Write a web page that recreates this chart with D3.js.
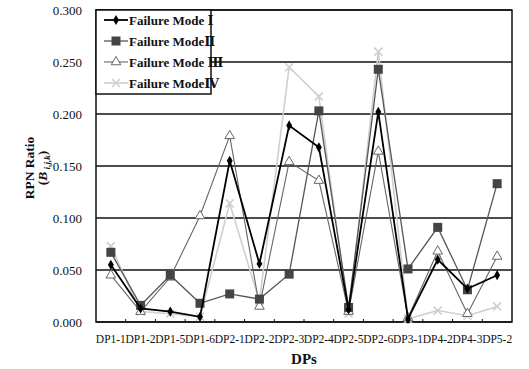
<!DOCTYPE html>
<html>
<head>
<meta charset="utf-8">
<script src="https://cdn.jsdelivr.net/npm/d3@7"></script>
<style>
  body { margin: 0; background: #fff; }
  svg text { font-family: 'Liberation Serif', 'DejaVu Serif', serif; }
</style>
</head>
<body>
<div id="vis"></div>
<script>
// categories and series
const dps = ['DP1-1', 'DP1-2', 'DP1-5', 'DP1-6', 'DP2-1', 'DP2-2', 'DP2-3', 'DP2-4', 'DP2-5', 'DP2-6', 'DP3-1', 'DP4-2', 'DP4-3', 'DP5-2']
const mode1 = [0.055, 0.013, 0.010, 0.005, 0.155, 0.056, 0.189, 0.168, 0.012, 0.202, 0.003, 0.060, 0.032, 0.045]
const mode2 = [0.067, 0.016, 0.045, 0.018, 0.027, 0.022, 0.046, 0.203, 0.014, 0.243, 0.051, 0.091, 0.031, 0.133]
const mode3 = [0.045, 0.010, 0.043, 0.102, 0.179, 0.015, 0.154, 0.136, 0.010, 0.164, 0.004, 0.068, 0.008, 0.063]
const mode4 = [0.073, 0.010, 0.008, 0.005, 0.114, 0.020, 0.245, 0.217, 0.008, 0.260, 0.003, 0.011, 0.006, 0.015]
const yTicks = [0, 0.05, 0.1, 0.15, 0.2, 0.25, 0.3]
const legendNames = ['Failure Mode Ⅰ', 'Failure ModeⅡ', 'Failure Mode Ⅲ', 'Failure ModeⅣ']

const W = 529, H = 369
const m = { left: 96, right: 17, top: 10, bottom: 47 }
const iw = W - m.left - m.right, ih = H - m.top - m.bottom
const serif = "'Liberation Serif', 'DejaVu Serif', serif"

const svg = d3.select('#vis').append('svg').attr('width', W).attr('height', H)
  .attr('font-family', serif)
const g = svg.append('g').attr('transform', 'translate(' + m.left + ',' + m.top + ')')

const x = d3.scaleBand().domain(dps).range([0, iw])
const y = d3.scaleLinear().domain([0, 0.3]).range([ih, 0])
const cx = d => x(d) + x.bandwidth() / 2

// horizontal grid
g.selectAll('.grid').data(yTicks).enter().append('line')
  .attr('x1', 0).attr('x2', iw)
  .attr('y1', d => y(d)).attr('y2', d => y(d))
  .attr('stroke', '#111').attr('stroke-width', 1.5)

// frame
g.append('rect').attr('width', iw).attr('height', ih)
  .attr('fill', 'none').attr('stroke', '#111').attr('stroke-width', 1.5)

// y axis labels
const yAxis = g.append('g').call(d3.axisLeft(y).tickValues(yTicks).tickFormat(d3.format('.3f')).tickSize(0).tickPadding(14))
yAxis.attr('font-family', serif)
yAxis.select('.domain').remove()
yAxis.selectAll('text').style('font-size', '13px').attr('fill', '#111')

// x axis: inward ticks at band edges
const edges = dps.map(d => x(d)).slice(1)
g.selectAll('.xt').data(edges).enter().append('line')
  .attr('x1', d => d).attr('x2', d => d)
  .attr('y1', ih).attr('y2', ih - 3)
  .attr('stroke', '#111').attr('stroke-width', 1)
g.selectAll('.xl').data(dps).enter().append('text')
  .attr('x', d => cx(d)).attr('y', ih + 21)
  .attr('text-anchor', 'middle')
  .style('font-size', '11.5px').attr('fill', '#111')
  .text(d => d)

// axis titles
svg.append('text').attr('x', m.left + iw / 2).attr('y', 364)
  .attr('text-anchor', 'middle').style('font-size', '15px').style('font-weight', 'bold').attr('fill', '#111')
  .text('DPs')
const yt = svg.append('g').attr('transform', 'translate(34,' + (m.top + ih / 2 + 2) + ')rotate(-90)')
yt.append('text').attr('text-anchor', 'middle').attr('y', 0)
  .style('font-size', '13.5px').style('font-weight', 'bold').attr('fill', '#111').text('RPN Ratio')
const yt2 = yt.append('text').attr('text-anchor', 'middle').attr('y', 13)
  .style('font-size', '13.5px').style('font-weight', 'bold').attr('fill', '#111')
yt2.append('tspan').text('(')
yt2.append('tspan').style('font-style', 'italic').text('B')
yt2.append('tspan').style('font-size', '9px').style('font-style', 'italic').attr('dy', 3).text(' i,j,k')
yt2.append('tspan').attr('dy', -3).text(')')

const line = d3.line().x((d, i) => cx(dps[i])).y(d => y(d))

const series = [
  { vals: mode4, color: '#cfcfcf', width: 1.6, marker: 'x' },
  { vals: mode3, color: '#666', width: 1.1, marker: 'tri' },
  { vals: mode2, color: '#555', width: 1.3, marker: 'sq' },
  { vals: mode1, color: '#000', width: 1.8, marker: 'dia' }
]

function drawMarker(sel, type, color) {
  if (type === 'dia') {
    sel.append('path').attr('d', d3.symbol(d3.symbolDiamond, 30)()).attr('fill', color)
  } else if (type === 'sq') {
    sel.append('rect').attr('x', -4.5).attr('y', -4.5).attr('width', 9).attr('height', 9).attr('fill', '#444')
  } else if (type === 'tri') {
    sel.append('path').attr('d', d3.symbol(d3.symbolTriangle, 40)()).attr('fill', '#fff').attr('stroke', color).attr('stroke-width', 1)
  } else {
    sel.append('path').attr('d', 'M-4,-4L4,4M-4,4L4,-4').attr('stroke', color).attr('stroke-width', 1.6)
  }
}

series.forEach(s => {
  g.append('path').datum(s.vals).attr('d', line)
    .attr('fill', 'none').attr('stroke', s.color).attr('stroke-width', s.width)
  g.selectAll(null).data(s.vals).enter().append('g')
    .attr('transform', (d, i) => 'translate(' + cx(dps[i]) + ',' + y(d) + ')')
    .each(function () { drawMarker(d3.select(this), s.marker, s.color) })
})

// legend
const leg = g.append('g')
leg.append('rect').attr('x', 0).attr('y', 0).attr('width', 115).attr('height', 84)
  .attr('fill', '#fff').attr('stroke', '#111').attr('stroke-width', 1.5)
const legSeries = [series[3], series[2], series[1], series[0]]
legSeries.forEach((s, i) => {
  const ly = 10 + i * 21
  const row = leg.append('g').attr('transform', 'translate(0,' + ly + ')')
  row.append('line').attr('x1', 8).attr('x2', 32).attr('y1', 0).attr('y2', 0)
    .attr('stroke', s.color).attr('stroke-width', s.width)
  drawMarker(row.append('g').attr('transform', 'translate(20,0)'), s.marker, s.color)
  row.append('text').attr('x', 33).attr('y', 4.5)
    .style('font-size', '13px').style('font-weight', 'bold').attr('fill', '#111')
    .text(legendNames[i])
})
</script>
</body>
</html>
